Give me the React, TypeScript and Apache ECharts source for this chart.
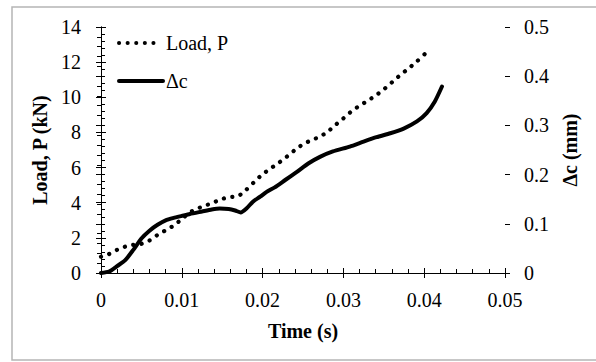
import React, { useEffect, useRef } from "react";
import * as echarts from "echarts";

const loadTime = [0, 0.001, 0.002, 0.003, 0.004, 0.005, 0.006, 0.007, 0.008, 0.009, 0.01, 0.011, 0.012, 0.013, 0.014, 0.015, 0.016, 0.017, 0.018, 0.019, 0.02, 0.021, 0.022, 0.023, 0.024, 0.025, 0.026, 0.027, 0.028, 0.029, 0.03, 0.031, 0.032, 0.033, 0.034, 0.035, 0.036, 0.037, 0.038, 0.039, 0.0404];
const loadValue = [0.93, 1.08, 1.32, 1.5, 1.6, 1.66, 1.85, 2.17, 2.43, 2.7, 3.07, 3.45, 3.68, 3.85, 4.03, 4.22, 4.32, 4.38, 4.75, 5.2, 5.62, 5.95, 6.27, 6.62, 7.0, 7.33, 7.55, 7.74, 8.02, 8.42, 8.8, 9.2, 9.52, 9.8, 10.1, 10.45, 10.85, 11.25, 11.62, 12.0, 12.6];

const dcTime = [0, 0.001, 0.002, 0.003, 0.004, 0.005, 0.006, 0.007, 0.008, 0.009, 0.01, 0.011, 0.0125, 0.0137, 0.0147, 0.0158, 0.0166, 0.0173, 0.018, 0.0188, 0.0197, 0.0205, 0.0215, 0.0228, 0.0242, 0.0257, 0.0271, 0.0287, 0.0308, 0.0325, 0.0341, 0.0358, 0.0374, 0.0391, 0.0403, 0.0413, 0.0422];
const dcValue = [0, 0.003, 0.014, 0.026, 0.047, 0.07, 0.086, 0.098, 0.107, 0.112, 0.116, 0.12, 0.125, 0.129, 0.131, 0.13, 0.127, 0.123, 0.131, 0.145, 0.155, 0.165, 0.174, 0.189, 0.205, 0.223, 0.236, 0.247, 0.257, 0.267, 0.276, 0.284, 0.293, 0.308, 0.325, 0.348, 0.379];

const xTitle = "Time (s)";
const yLeftTitle = "Load, P (kN)";
const yRightTitle = "Δc (mm)";
const seriesNames = ["Load, P", "Δc"];

const FONT = "Liberation Serif";
const FS = 20;

export default function App() {
  const ref = useRef<HTMLDivElement>(null);
  useEffect(() => {
    if (!ref.current) return;
    const chart = echarts.init(ref.current, null, { renderer: "svg" });
    const axisLine = { show: true, lineStyle: { color: "#000", width: 1 } };
    const labelStyle = { color: "#000", fontSize: FS, fontFamily: FONT, fontWeight: "normal" as const };
    const nameStyle = { color: "#000", fontSize: FS, fontFamily: FONT, fontWeight: "bold" as const };
    chart.setOption({
      animation: false,
      backgroundColor: "#fff",
      textStyle: { fontFamily: FONT, color: "#000" },
      grid: { left: 101, right: 91, top: 27, bottom: 89, containLabel: false },
      xAxis: [
        {
          type: "value", min: 0, max: 0.05, interval: 0.01,
          axisLine,
          axisTick: { show: true, inside: true, length: 5, lineStyle: { color: "#000" } },
          minorTick: { show: true, splitNumber: 5, length: 4, lineStyle: { color: "#000" } },
          splitLine: { show: false },
          axisLabel: { ...labelStyle, margin: 17 },
          name: xTitle, nameLocation: "middle", nameGap: 48, nameTextStyle: nameStyle,
        },
        {
          type: "value", min: 0, max: 0.05, interval: 0.01, position: "bottom",
          axisLine: { show: false },
          axisTick: { show: true, inside: false, length: 5, lineStyle: { color: "#000" } },
          splitLine: { show: false }, axisLabel: { show: false },
        },
      ],
      yAxis: [
        {
          type: "value", min: 0, max: 14, interval: 2, position: "left",
          axisLine,
          axisTick: { show: true, inside: true, length: 5, lineStyle: { color: "#000" } },
          minorTick: { show: true, splitNumber: 5, length: 4, lineStyle: { color: "#000" } },
          splitLine: { show: false },
          axisLabel: { ...labelStyle, margin: 20 },
          name: yLeftTitle, nameLocation: "middle", nameRotate: 90, nameGap: 45, nameTextStyle: nameStyle,
        },
        {
          type: "value", min: 0, max: 0.5, interval: 0.1, position: "right",
          axisLine,
          axisTick: { show: true, inside: true, length: 5, lineStyle: { color: "#000" } },
          minorTick: { show: true, splitNumber: 5, length: 4, lineStyle: { color: "#000" } },
          splitLine: { show: false },
          axisLabel: { ...labelStyle, margin: 19 },
          name: yRightTitle, nameLocation: "middle", nameRotate: 90, nameGap: 55, nameTextStyle: nameStyle,
        },
        {
          type: "value", min: 0, max: 14, interval: 2, position: "left",
          axisLine: { show: false },
          axisTick: { show: true, inside: false, length: 5, lineStyle: { color: "#000" } },
          splitLine: { show: false }, axisLabel: { show: false },
        },
        {
          type: "value", min: 0, max: 0.5, interval: 0.1, position: "right",
          axisLine: { show: false },
          axisTick: { show: true, inside: false, length: 5, lineStyle: { color: "#000" } },
          splitLine: { show: false }, axisLabel: { show: false },
        },
      ],
      graphic: [
        {
          type: "rect", shape: { x: 12, y: 7, width: 600, height: 353 },
          style: { fill: "none", stroke: "#b5b5b5", lineWidth: 1.5 }, silent: true, z: -1,
        },
        {
          type: "line", shape: { x1: 119, y1: 43, x2: 162, y2: 43 },
          style: { stroke: "#000", lineWidth: 4, lineDash: [0.1, 8.5], lineCap: "round" },
        },
        {
          type: "text", x: 166, y: 43,
          style: { text: seriesNames[0], fill: "#000", fontSize: FS, fontFamily: FONT, fontWeight: "normal", verticalAlign: "middle", align: "left" },
        },
        {
          type: "line", shape: { x1: 119, y1: 81, x2: 163, y2: 81 },
          style: { stroke: "#000", lineWidth: 4, lineCap: "round" },
        },
        {
          type: "text", x: 166, y: 81,
          style: { text: seriesNames[1], fill: "#000", fontSize: FS, fontFamily: FONT, fontWeight: "normal", verticalAlign: "middle", align: "left" },
        },
      ],
      series: [
        {
          name: seriesNames[0], type: "line", xAxisIndex: 0, yAxisIndex: 0,
          data: loadTime.map((t, i) => [t, loadValue[i]]),
          showSymbol: false, smooth: 0.2,
          lineStyle: { color: "#000", width: 4.2, type: [0.1, 8.5], cap: "round" },
        },
        {
          name: seriesNames[1], type: "line", xAxisIndex: 0, yAxisIndex: 1,
          data: dcTime.map((t, i) => [t, dcValue[i]]),
          showSymbol: false, smooth: 0.2,
          lineStyle: { color: "#000", width: 4, cap: "round", join: "round" },
        },
      ],
    });
    return () => chart.dispose();
  }, []);
  return <div ref={ref} style={{ position: "fixed", left: 0, top: 0, width: 596, height: 362 }} />;
}
